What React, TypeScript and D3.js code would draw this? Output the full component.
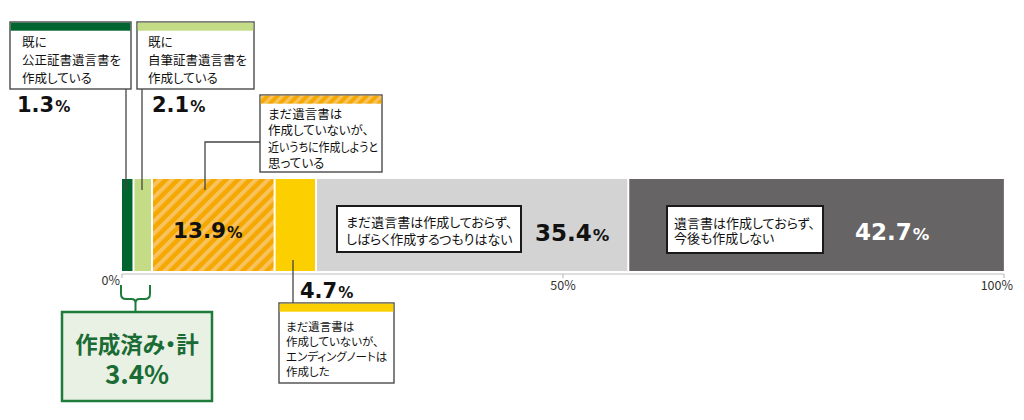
import { useLayoutEffect, useRef } from 'react';
import * as d3 from 'd3';

// survey answers, left to right along the bar (%)
const categories = [
  '既に公正証書遺言書を作成している',
  '既に自筆証書遺言書を作成している',
  'まだ遺言書は作成していないが、近いうちに作成しようと思っている',
  'まだ遺言書は作成していないが、エンディングノートは作成した',
  'まだ遺言書は作成しておらず、しばらく作成するつもりはない',
  '遺言書は作成しておらず、今後も作成しない',
];
const values = [1.3, 2.1, 13.9, 4.7, 35.4, 42.7];
const calloutLines = [
  ['既に', '公正証書遺言書を', '作成している'],
  ['既に', '自筆証書遺言書を', '作成している'],
  ['まだ遺言書は', '作成していないが、', '近いうちに作成しようと', '思っている'],
  ['まだ遺言書は', '作成していないが、', 'エンディングノートは', '作成した'],
  ['まだ遺言書は作成しておらず、', 'しばらく作成するつもりはない'],
  ['遺言書は作成しておらず、', '今後も作成しない'],
];
const axisTicks = [0, 50, 100];
const totalLabel = '作成済み・計';

const colors = ['#00652e', '#c5dc87', 'url(#hatch)', '#fcd000', '#d3d3d3', '#666465'];
const headerColors = ['#00652e', '#c5dc87', 'url(#hatchSmall)', '#fcd000'];

const W = 1024;
const H = 420;
const barTop = 179;
const barBottom = 271;
const axisY = 274;

const jp = "'Noto Sans CJK JP', 'Noto Sans', sans-serif";
const num = "'DejaVu Sans', Verdana, sans-serif";

// callout boxes (annotation layout)
const boxes = [
  { x: 10, y: 22, w: 121, h: 67, header: 8, tx: 22, ty: 47, step: 18, fs: 12.5 },
  { x: 137, y: 22, w: 117, h: 67, header: 8, tx: 148, ty: 47, step: 18, fs: 12.5 },
  { x: 260, y: 95, w: 122, h: 77, header: 8, tx: 268, ty: 118.5, step: 16.5, fs: 12.5 },
  { x: 279, y: 303, w: 115, h: 80, header: 8, tx: 286, ty: 330.5, step: 15, fs: 11.5 },
  { x: 337, y: 206, w: 184, h: 46, header: 0, tx: 346, ty: 227, step: 16.5, fs: 13 },
  { x: 667, y: 206, w: 156, h: 47, header: 0, tx: 674, ty: 227.5, step: 15.5, fs: 13 },
];
const pctPos = [
  { x: 17, y: 112, fill: '#111', fs: 21 },
  { x: 152, y: 112, fill: '#111', fs: 21 },
  { x: 173, y: 238, fill: '#111', fs: 21.5 },
  { x: 300, y: 298, fill: '#111', fs: 21 },
  { x: 535, y: 241, fill: '#111', fs: 23 },
  { x: 855, y: 240, fill: '#fff', fs: 23 },
];

function Pct({ v, x, y, fill, fs }: { v: number; x: number; y: number; fill: string; fs: number }) {
  return (
    <text x={x} y={y} fill={fill} fontFamily={num} fontWeight="bold">
      <tspan fontSize={fs}>{v.toFixed(1)}</tspan>
      <tspan fontSize={fs * 0.72} dx={1}>%</tspan>
    </text>
  );
}

export default function App() {
  const svgRef = useRef<SVGSVGElement>(null);

  // squeeze callout lines that would run past their box
  useLayoutEffect(() => {
    if (!svgRef.current) return;
    svgRef.current.querySelectorAll<SVGTextElement>('text[data-maxw]').forEach((t) => {
      const maxw = +(t.getAttribute('data-maxw') || 0);
      if (t.getComputedTextLength() > maxw) {
        t.setAttribute('textLength', String(maxw));
        t.setAttribute('lengthAdjust', 'spacingAndGlyphs');
      }
    });
  }, []);

  const x = d3.scaleLinear().domain([0, 100]).range([122, 1004]);
  const starts = [0, ...Array.from(d3.cumsum(values))].slice(0, values.length);
  const total = d3.sum(values.slice(0, 2));

  const xl = x(0) - 1;
  const xr = x(total) - 2;
  const xc = (xl + xr) / 2;
  const bracket = d3.path();
  bracket.moveTo(xl, 285);
  bracket.lineTo(xl, 294);
  bracket.quadraticCurveTo(xl, 299, xl + 5, 299);
  bracket.lineTo(xc - 4, 299);
  bracket.quadraticCurveTo(xc, 299, xc, 303);
  bracket.lineTo(xc, 312);
  bracket.moveTo(xc, 303);
  bracket.quadraticCurveTo(xc, 299, xc + 4, 299);
  bracket.lineTo(xr - 5, 299);
  bracket.quadraticCurveTo(xr, 299, xr, 294);
  bracket.lineTo(xr, 285);

  const lineStroke = '#444';

  return (
    <svg
      ref={svgRef}
      width={W}
      height={H}
      style={{ position: 'absolute', left: 0, top: 0, background: '#fff' }}
      fontFamily={jp}
    >
      <defs>
        <pattern id="hatch" width={8.5} height={8.5} patternUnits="userSpaceOnUse" patternTransform="rotate(45)">
          <rect width={8.5} height={8.5} fill="#f5a800" />
          <rect width={4} height={8.5} fill="#f8c35f" />
        </pattern>
        <pattern id="hatchSmall" width={7} height={7} patternUnits="userSpaceOnUse" patternTransform="rotate(45)">
          <rect width={7} height={7} fill="#f5a800" />
          <rect width={3.2} height={7} fill="#f8c35f" />
        </pattern>
      </defs>

      {/* bar segments */}
      {values.map((v, i) => (
        <rect
          key={categories[i]}
          x={x(starts[i]) + (i === 0 ? 0 : 1)}
          y={barTop}
          width={x(starts[i] + v) - x(starts[i]) - (i === 0 ? 1 : 2)}
          height={barBottom - barTop}
          fill={colors[i]}
        />
      ))}

      {/* axis */}
      <line x1={x(0)} x2={x(100)} y1={axisY} y2={axisY} stroke="#bdbdbd" strokeWidth={1.2} />
      {axisTicks.map((t) => (
        <line key={t} x1={x(t)} x2={x(t)} y1={axisY} y2={axisY + 4} stroke="#bdbdbd" strokeWidth={1.2} />
      ))}
      {axisTicks.map((t, i) => (
        <text
          key={'l' + t}
          x={i === 0 ? x(t) - 2 : i === axisTicks.length - 1 ? x(t) + 9 : x(t)}
          y={i === 0 ? 285 : 290}
          fontSize={12.5}
          fill="#333"
          textAnchor={i === 0 ? 'end' : i === axisTicks.length - 1 ? 'end' : 'middle'}
        >
          {t}%
        </text>
      ))}

      {/* leader lines */}
      <line x1={126} x2={126} y1={89} y2={190} stroke={lineStroke} strokeWidth={1.3} />
      <line x1={142} x2={142} y1={89} y2={190} stroke={lineStroke} strokeWidth={1.3} />
      <polyline points="260,142 205,142 205,190" fill="none" stroke={lineStroke} strokeWidth={1.3} />
      <line x1={293} x2={293} y1={260} y2={303} stroke={lineStroke} strokeWidth={1.3} />

      {/* callout boxes */}
      {boxes.map((b, i) => (
        <g key={'b' + i}>
          <rect
            x={b.x}
            y={b.y}
            width={b.w}
            height={b.h}
            fill="#fff"
            stroke={b.header ? '#4a4a4a' : '#1a1a1a'}
            strokeWidth={b.header ? 1.4 : 2}
          />
          {b.header > 0 && (
            <rect x={b.x + 0.7} y={b.y + 0.7} width={b.w - 1.4} height={b.header} fill={headerColors[i]} />
          )}
          {calloutLines[i].map((ln, j) => (
            <text
              key={j}
              x={b.tx}
              y={b.ty + j * b.step}
              fontSize={b.fs}
              fill="#111"
              data-maxw={b.x + b.w - b.tx - 4}
              style={{ fontFeatureSettings: '"palt"' }}
            >
              {ln}
            </text>
          ))}
        </g>
      ))}

      {/* percentage labels */}
      {values.map((v, i) => (
        <Pct key={'p' + i} v={v} {...pctPos[i]} />
      ))}

      {/* total of already-written wills */}
      <path d={bracket.toString()} fill="none" stroke="#1e7b3a" strokeWidth={2} />
      <rect x={62} y={312} width={150} height={89} fill="#e8f1e4" stroke="#1e7b3a" strokeWidth={2.5} />
      <text
        x={137}
        y={353}
        textAnchor="middle"
        fontSize={22.5}
        fontWeight="bold"
        fill="#1a6b34"
        style={{ fontFeatureSettings: '"palt"' }}
      >
        {totalLabel}
      </text>
      <text x={137} y={384} textAnchor="middle" fontSize={26} fontWeight="bold" fill="#1a6b34">
        {total.toFixed(1)}%
      </text>
    </svg>
  );
}
